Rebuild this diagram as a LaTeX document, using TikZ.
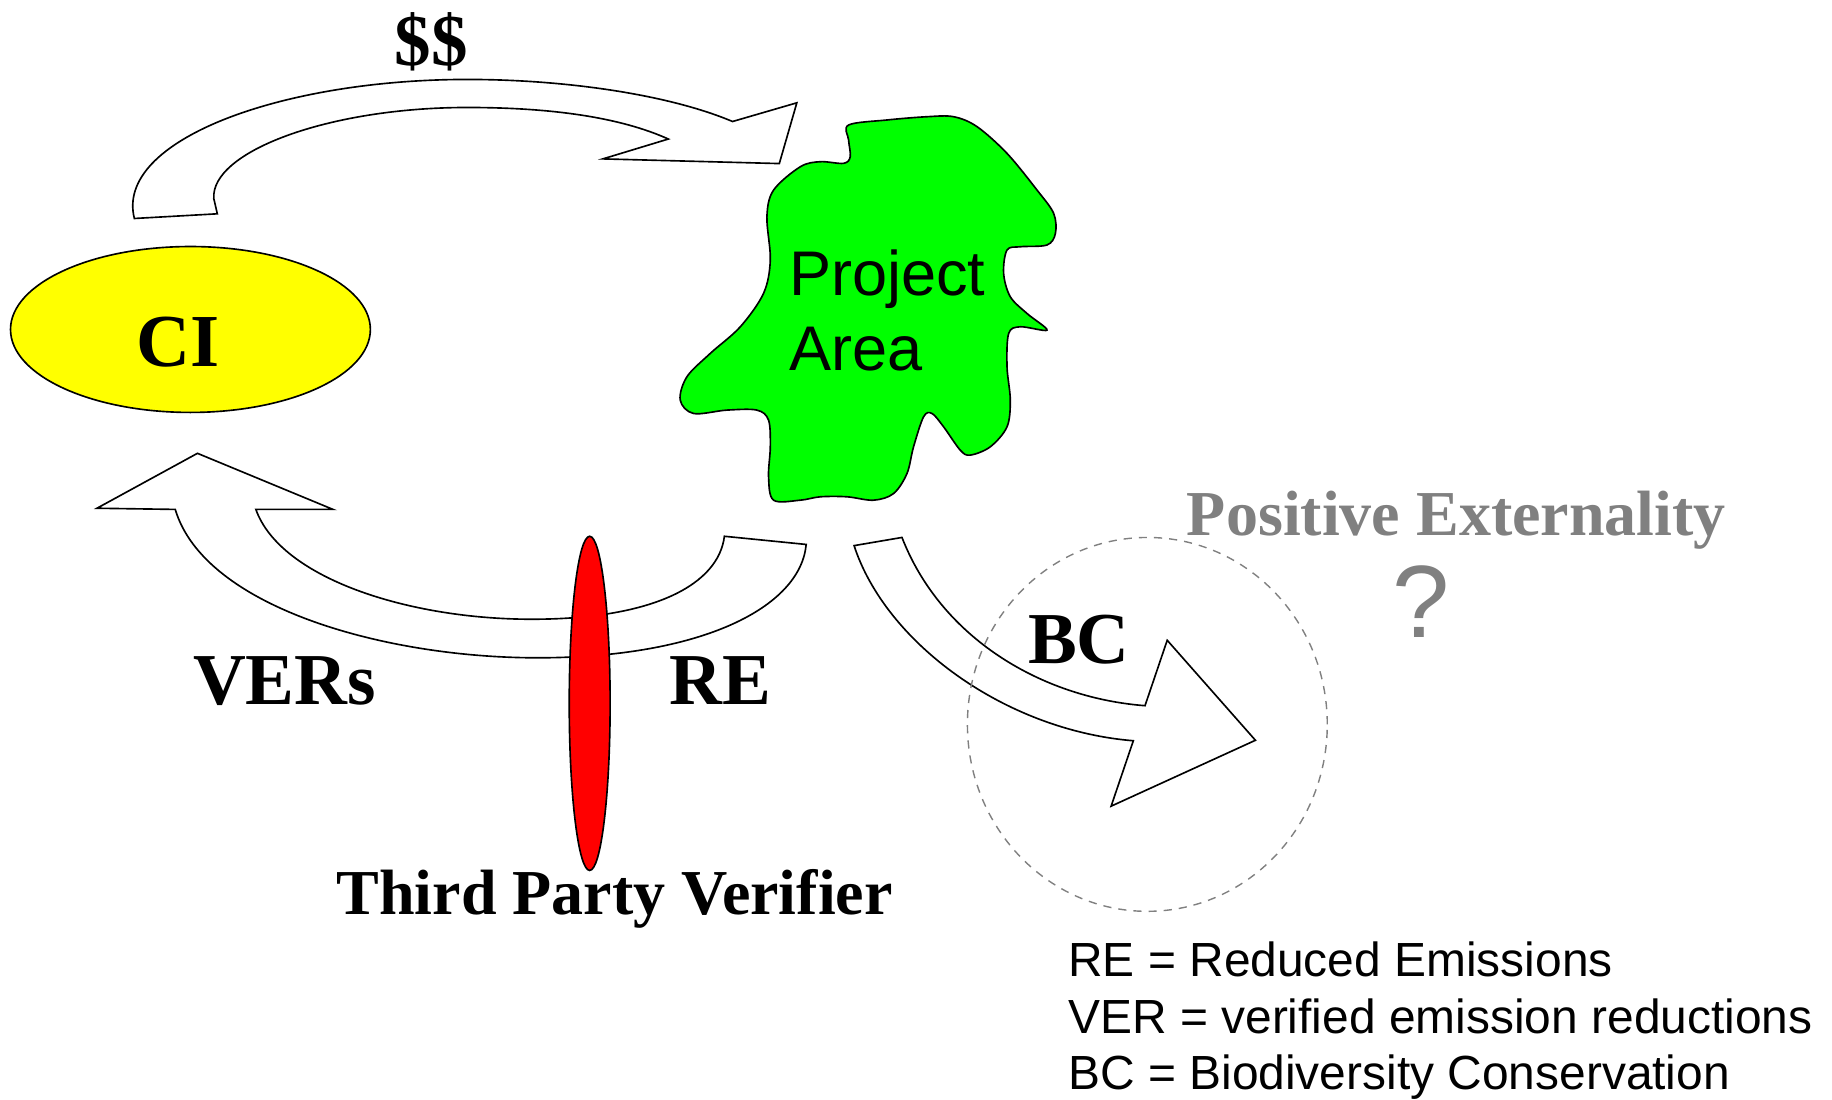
\documentclass[tikz,border=0pt]{standalone}
\usepackage{fontspec}
\setmainfont{Liberation Serif}
\newfontfamily\arialfont{Liberation Sans}
\usetikzlibrary{shapes.geometric}

\definecolor{blobgreen}{HTML}{00FF00}
\definecolor{ciyellow}{HTML}{FFFF00}
\definecolor{verred}{HTML}{FF0000}
\definecolor{extgray}{HTML}{808080}

\tikzset{
  blockarrow/.style={draw=black, line width=0.7pt, fill=white, line join=miter},
  outline/.style={draw=black, line width=0.7pt},
  boldlabel/.style={font=\fontsize{31.3}{36}\selectfont\bfseries, anchor=base, inner sep=0pt},
  midlabel/.style={font=\fontsize{27.4}{32}\selectfont\bfseries, anchor=base, inner sep=0pt},
  sanslabel/.style={font=\arialfont\fontsize{27}{32}\selectfont, anchor=base west, inner sep=0pt},
  legendline/.style={font=\arialfont\fontsize{20.5}{24}\selectfont, anchor=base west, inner sep=0pt},
}

\begin{document}
\begin{tikzpicture}[x=0.5pt, y=-0.5pt]
\useasboundingbox (0,0) rectangle (1568,941);

% money flow: CI -> project area
\draw[blockarrow] (115,187) .. controls (98,120) and (241,68) .. (400,68)
  .. controls (480,68) and (570,80) .. (627,104)
  -- (682,88) -- (667,140) -- (516,136) -- (572,119)
  .. controls (530,100) and (470,92) .. (400,92)
  .. controls (281,92) and (180,130) .. (183,170)
  -- (186,183) -- cycle;
\node[boldlabel] (money) at (369,56) {\$\$};

% CI
\node[outline, fill=ciyellow, ellipse, minimum width=154pt, minimum height=71pt, inner sep=0pt] (ci) at (163,282) {};
\node[boldlabel, font=\fontsize{32}{36}\selectfont\bfseries] (cilabel) at (152.7,314) {CI};

% project area
\draw[outline, fill=blobgreen] plot[smooth cycle, tension=0.55] coordinates {
  (726.3,107.0) (759.1,102.7) (793.4,99.9) (816.2,99.9) (836.2,108.4)
  (861.9,131.3) (887.6,162.7) (901.8,182.6) (903.3,199.8) (896.1,209.7)
  (873.3,211.2) (861.9,214.0) (859.0,234.0) (864.7,254.0) (879.0,268.3)
  (896.1,282.5) (873.3,279.7) (863.3,285.4) (861.9,313.9) (864.7,342.4)
  (861.9,365.3) (847.6,382.4) (830.5,389.5) (821.9,385.3) (807.6,365.3)
  (797.7,353.9) (790.5,356.7) (781.9,382.4) (776.3,405.2) (764.8,422.4)
  (747.7,428.1) (724.9,425.2) (702.1,425.2) (685.0,428.1) (662.1,428.1)
  (657.8,408.1) (659.3,382.4) (657.8,359.6) (647.8,351.0) (622.2,351.0)
  (593.6,353.9) (582.2,342.4) (587.9,322.5) (607.9,302.5) (633.6,279.7)
  (653.5,251.1) (659.3,222.6) (656.4,185.5) (662.1,162.7) (685.0,142.7)
  (702.1,138.4) (722.0,139.8) (727.7,134.1) (726.3,119.8)};
\node[sanslabel] (projtop) at (675,252.6) {Project};
\node[sanslabel] (projbot) at (675,316.8) {Area};

% reduced emissions / VERs: project area -> CI
\draw[blockarrow] (150,436) .. controls (175,520) and (330,563) .. (460,563)
  .. controls (600,563) and (685,520) .. (690,466)
  -- (620,459)
  .. controls (615,500) and (560,530) .. (455,530)
  .. controls (350,530) and (240,495) .. (219,436)
  -- (285,436) -- (169,388) -- (83,435) -- cycle;
\node[outline, fill=verred, ellipse, minimum width=17.5pt, minimum height=143pt, inner sep=0pt] (verifier) at (504.7,602) {};
\node[boldlabel] (vers) at (243.5,603) {VERs};
\node[boldlabel] (re) at (616.5,603) {RE};
\node[midlabel] (tpv) at (526,783) {Third Party Verifier};

% biodiversity conservation
\draw[blockarrow] (731,467) .. controls (758,550) and (860,625) .. (970,634)
  -- (951,690) -- (1074.5,633.6) -- (999,548) -- (980,604)
  .. controls (890,597) and (805,545) .. (772,460) -- cycle;
\node[boldlabel] (bc) at (923.5,568) {BC};
\node[draw=extgray, line width=0.6pt, dash pattern=on 3.5pt off 3pt, ellipse, minimum width=154pt, minimum height=160pt, inner sep=0pt] (ext) at (982,620) {};
\node[midlabel, text=extgray] (extlabel) at (1246.5,458) {Positive Externality};
\node[font=\arialfont\fontsize{44}{48}\selectfont, text=extgray, anchor=base, inner sep=0pt] (extq) at (1216.5,546) {?};

% legend
\node[legendline] (leg1) at (914,836.2) {RE = Reduced Emissions};
\node[legendline] (leg2) at (914,884.6) {VER = verified emission reductions};
\node[legendline] (leg3) at (914,932.8) {BC = Biodiversity Conservation};
\end{tikzpicture}
\end{document}
